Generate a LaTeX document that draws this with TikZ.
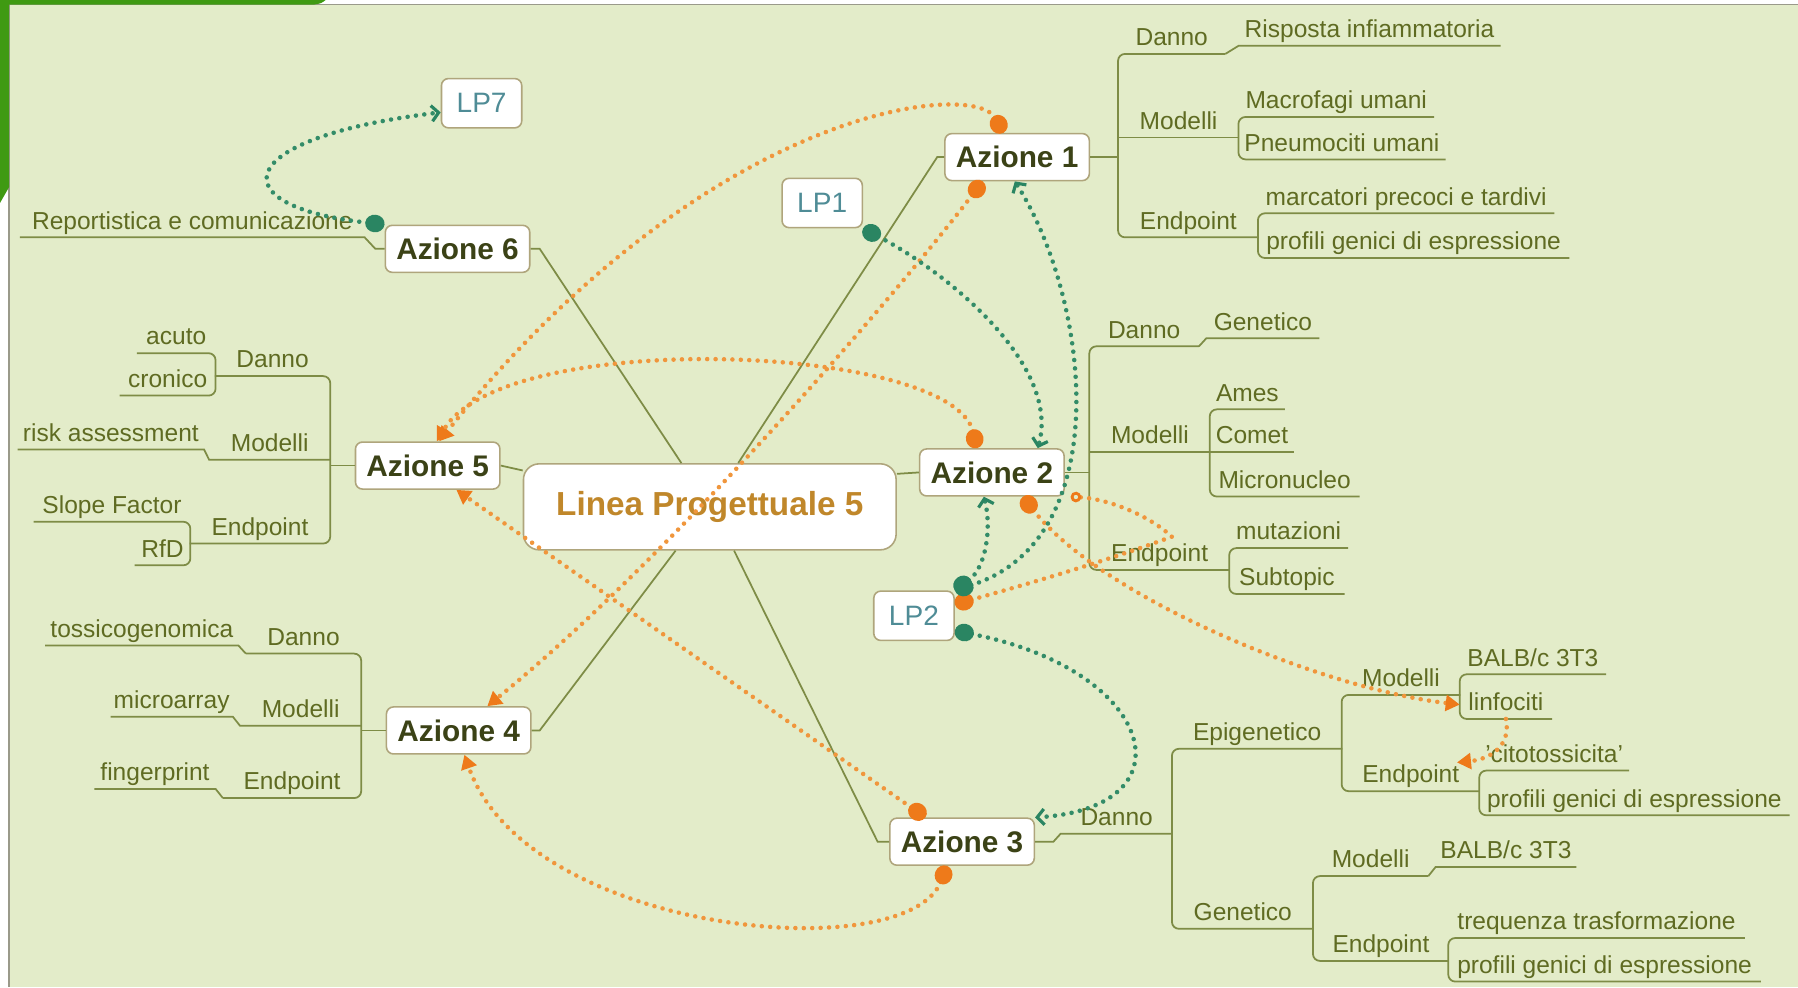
\documentclass[tikz,border=0pt]{standalone}
\usepackage{fontspec}
\setmainfont{Liberation Sans}
\usetikzlibrary{arrows.meta}

\newlength{\px}
\setlength{\px}{0.023cm}

\definecolor{bgc}{HTML}{E3ECC9}
\definecolor{framec}{HTML}{9A9A8A}
\definecolor{cornerc}{HTML}{3F9A12}
\definecolor{brc}{HTML}{7E8C46}
\definecolor{lbc}{HTML}{5F6B22}
\definecolor{boxc}{HTML}{AFA57C}
\definecolor{azc}{HTML}{3B4216}
\definecolor{lpc}{HTML}{4F8C96}
\definecolor{centc}{HTML}{C0872A}
\definecolor{odash}{HTML}{F0963C}
\definecolor{odot}{HTML}{EE7A1A}
\definecolor{gdash}{HTML}{338C68}
\definecolor{gdot}{HTML}{2A8562}

\tikzstyle{branch}=[draw=brc,line width=1pt]
\tikzstyle{lbl}=[inner xsep=0pt,inner ysep=1.5pt,text height=10pt,text depth=3pt,font=\fontsize{14}{16}\selectfont,text=lbc]
\tikzstyle{lblr}=[lbl,anchor=south west]
\tikzstyle{lbll}=[lbl,anchor=south east]
\tikzstyle{azione}=[draw=boxc,fill=white,rounded corners=4pt,line width=0.9pt,minimum width=126\px,minimum height=41\px,font=\bfseries\fontsize{17}{17}\selectfont,text=azc]
\tikzstyle{lp}=[draw=boxc,fill=white,rounded corners=4pt,line width=0.9pt,minimum width=70\px,minimum height=43\px,font=\fontsize{16}{16}\selectfont,text=lpc]
\tikzstyle{olink}=[draw=odash,line width=2.6pt,dash pattern=on 0pt off 4.8pt,line cap=round,arrows={Circle[length=11pt,width=10pt,color=odot]-Triangle[length=8pt,width=9pt,color=odot]}]
\tikzstyle{glink}=[draw=gdash,line width=2.6pt,dash pattern=on 0pt off 4.8pt,line cap=round,arrows={Circle[length=11pt,width=10pt,color=gdot]-Straight Barb[length=4pt,width=9pt,line width=1.8pt,color=gdot]}]

\begin{document}
\begin{tikzpicture}[x=0.023cm,y=-0.023cm]

\useasboundingbox (0,0) rectangle (1568,861);
\fill[white] (0,0) rectangle (1568,861);
\fill[bgc] (8,4) rectangle (1568,861);
\draw[framec,line width=1pt] (1568,4) -- (8,4) -- (8,861);
\fill[cornerc] (0,0) -- (284,0) .. controls (280,3) .. (274,4) -- (8,4) -- (8,163) -- (0,177) -- cycle;

\node[lp,minimum width=325\px,minimum height=75\px,rounded corners=9pt,font=\bfseries\fontsize{19}{19}\selectfont,text=centc] (lp5) at (619,442) {Linea Progettuale 5};

\node[azione] (az1) at (887,137) {Azione 1};
\node[azione] (az2) at (865,412) {Azione 2};
\node[azione] (az3) at (839,734) {Azione 3};
\node[azione] (az4) at (400,637) {Azione 4};
\node[azione] (az5) at (373,406) {Azione 5};
\node[azione] (az6) at (399,217) {Azione 6};

\node[lp] (lp7) at (420,90) {LP7};
\node[lp] (lp1) at (717,177) {LP1};
\node[lp] (lp2) at (797,537) {LP2};

\node[lblr,minimum width=93\px] (a1d) at (975,47) {Danno};
\node[lblr,minimum width=228\px] (a1r) at (1080,40) {Risposta infiammatoria};
\node[lblr,minimum width=105\px] (a1m) at (975,120) {Modelli};
\node[lblr,minimum width=170\px] (a1m1) at (1080,102) {Macrofagi umani};
\node[lblr,minimum width=180\px] (a1m2) at (1080,139) {Pneumociti umani};
\node[lblr,minimum width=122\px] (a1e) at (975,207) {Endpoint};
\node[lblr,minimum width=258\px] (a1e1) at (1097,186) {marcatori precoci e tardivi};
\node[lblr,minimum width=271\px] (a1e2) at (1097,225) {profili genici di espressione};

\node[lblr,minimum width=95\px] (a2d) at (950,302) {Danno};
\node[lblr,minimum width=98\px] (a2g) at (1052,295) {Genetico};
\node[lblr,minimum width=105\px] (a2m) at (950,394) {Modelli};
\node[lblr,minimum width=65\px] (a2m1) at (1055,357) {Ames};
\node[lblr,minimum width=73\px] (a2m2) at (1055,394) {Comet};
\node[lblr,minimum width=130\px] (a2m3) at (1055,433) {Micronucleo};
\node[lblr,minimum width=122\px] (a2e) at (950,497) {Endpoint};
\node[lblr,minimum width=103\px] (a2e1) at (1072,478) {mutazioni};
\node[lblr,minimum width=100\px] (a2e2) at (1072,518) {Subtopic};

\node[lblr,minimum width=97\px] (a3d) at (925,727) {Danno};
\node[lblr,minimum width=148\px] (a3ep) at (1022,653) {Epigenetico};
\node[lblr,minimum width=103\px] (a3epm) at (1170,606) {Modelli};
\node[lblr,minimum width=127\px] (a3epm1) at (1273,588) {BALB/c 3T3};
\node[lblr,minimum width=80\px] (a3epm2) at (1273,627) {linfociti};
\node[lblr,minimum width=120\px] (a3epe) at (1170,690) {Endpoint};
\node[lblr,minimum width=130\px] (a3epe1) at (1290,672) {'citotossicita'};
\node[lblr,minimum width=270\px] (a3epe2) at (1290,711) {profili genici di espressione};
\node[lblr,minimum width=123\px] (a3ge) at (1022,810) {Genetico};
\node[lblr,minimum width=100\px] (a3gem) at (1145,764) {Modelli};
\node[lblr,minimum width=122\px] (a3gem1) at (1252,756) {BALB/c 3T3};
\node[lblr,minimum width=118\px] (a3gee) at (1145,838) {Endpoint};
\node[lblr,minimum width=258\px] (a3gee1) at (1263,818) {trequenza trasformazione};
\node[lblr,minimum width=272\px] (a3gee2) at (1263,856) {profili genici di espressione};

\node[lbll,minimum width=100\px] (a4d) at (315,570) {Danno};
\node[lbll,minimum width=168\px] (a4d1) at (208,563) {tossicogenomica};
\node[lbll,minimum width=105\px] (a4m) at (315,633) {Modelli};
\node[lbll,minimum width=106\px] (a4m1) at (203,625) {microarray};
\node[lbll,minimum width=120\px] (a4e) at (315,696) {Endpoint};
\node[lbll,minimum width=105\px] (a4e1) at (188,688) {fingerprint};

\node[lbll,minimum width=100\px] (a5d) at (288,328) {Danno};
\node[lbll,minimum width=68\px] (a5d1) at (188,308) {acuto};
\node[lbll,minimum width=83\px] (a5d2) at (188,345) {cronico};
\node[lbll,minimum width=105\px] (a5m) at (288,401) {Modelli};
\node[lbll,minimum width=162\px] (a5m1) at (178,392) {risk assessment};
\node[lbll,minimum width=122\px] (a5e) at (288,474) {Endpoint};
\node[lbll,minimum width=136\px] (a5e1) at (166,455) {Slope Factor};
\node[lbll,minimum width=48\px] (a5e2) at (166,493) {RfD};

\node[lbll,minimum width=300\px] (a6r) at (318,207) {Reportistica e comunicazione};

\draw[branch] (lp5.57) -- ([xshift=-6\px]az1.west) -- (az1.west);
\draw[branch] (lp5.10) -- (az2.west);
\draw[branch] (lp5.299) -- ([xshift=-10\px]az3.west) -- (az3.west);
\draw[branch] (lp5.232) -- ([xshift=7\px]az4.east) -- (az4.east);
\draw[branch] (lp5.169) -- (az5.east);
\draw[branch] (lp5.123) -- ([xshift=8\px]az6.east) -- (az6.east);

\draw[branch] (az1.east) -- (az1.east -| a1d.south west);
\draw[branch,rounded corners=4pt] (a1d.south east) -- (a1d.south west) -- (a1e.south west) -- (a1e.south east);
\draw[branch] (a1m.south west) -- (a1m.south east);
\draw[branch] (a1d.south east) -- (a1r.south west) -- (a1r.south east);
\draw[branch,rounded corners=4pt] (a1m1.south east) -- (a1m1.south west) -- (a1m2.south west) -- (a1m2.south east);
\draw[branch,rounded corners=4pt] (a1e1.south east) -- (a1e1.south west) -- (a1e2.south west) -- (a1e2.south east);

\draw[branch] (az2.east) -- (az2.east -| a2d.south west);
\draw[branch,rounded corners=4pt] (a2d.south east) -- (a2d.south west) -- (a2e.south west) -- (a2e.south east);
\draw[branch] (a2m.south west) -- (a2m.south east);
\draw[branch] (a2d.south east) -- (a2g.south west) -- (a2g.south east);
\draw[branch,rounded corners=4pt] (a2m1.south east) -- (a2m1.south west) -- (a2m3.south west) -- (a2m3.south east);
\draw[branch] (a2m2.south west) -- (a2m2.south east);
\draw[branch,rounded corners=4pt] (a2e1.south east) -- (a2e1.south west) -- (a2e2.south west) -- (a2e2.south east);

\draw[branch] (az3.east) -- ([xshift=16\px]az3.east) -- (a3d.south west) -- (a3d.south east);
\draw[branch,rounded corners=4pt] (a3ep.south east) -- (a3ep.south west) -- (a3ge.south west) -- (a3ge.south east);
\draw[branch,rounded corners=4pt] (a3epm.south east) -- (a3epm.south west) -- (a3epe.south west) -- (a3epe.south east);
\draw[branch,rounded corners=4pt] (a3epm1.south east) -- (a3epm1.south west) -- (a3epm2.south west) -- (a3epm2.south east);
\draw[branch,rounded corners=4pt] (a3epe1.south east) -- (a3epe1.south west) -- (a3epe2.south west) -- (a3epe2.south east);
\draw[branch,rounded corners=4pt] (a3gem.south east) -- (a3gem.south west) -- (a3gee.south west) -- (a3gee.south east);
\draw[branch] (a3gem.south east) -- (a3gem1.south west) -- (a3gem1.south east);
\draw[branch,rounded corners=4pt] (a3gee1.south east) -- (a3gee1.south west) -- (a3gee2.south west) -- (a3gee2.south east);

\draw[branch] (az4.west) -- (az4.west -| a4d.south east);
\draw[branch,rounded corners=4pt] (a4d.south west) -- (a4d.south east) -- (a4e.south east) -- (a4e.south west);
\draw[branch] (a4d.south west) -- (a4d1.south east) -- (a4d1.south west);
\draw[branch] (a4m.south east) -- (a4m.south west) -- (a4m1.south east) -- (a4m1.south west);
\draw[branch] (a4e.south west) -- (a4e1.south east) -- (a4e1.south west);

\draw[branch] (az5.west) -- (az5.west -| a5d.south east);
\draw[branch,rounded corners=4pt] (a5d.south west) -- (a5d.south east) -- (a5e.south east) -- (a5e.south west);
\draw[branch] (a5m.south east) -- (a5m.south west) -- (a5m1.south east) -- (a5m1.south west);
\draw[branch,rounded corners=4pt] (a5d1.south west) -- (a5d1.south east) -- (a5d2.south east) -- (a5d2.south west);
\draw[branch,rounded corners=4pt] (a5e1.south west) -- (a5e1.south east) -- (a5e2.south east) -- (a5e2.south west);

\draw[branch] (az6.west) -- ([xshift=-8\px]az6.west) -- (a6r.south east) -- (a6r.south west);

\draw[olink] ([xshift=-12\px]az1.north) .. controls (850,70) and (620,90) .. ([xshift=10\px]az5.north);
\draw[olink] ([xshift=-30\px]az1.south) .. controls (775,265) and (580,490) .. ([xshift=25\px]az4.north);
\draw[olink] ([xshift=-13\px]az2.north) .. controls (830,300) and (440,285) .. ([xshift=8\px]az5.north);
\draw[olink] ([xshift=-32\px]az3.north) -- ([xshift=25\px]az5.south);
\draw[olink] ([xshift=-13\px]az3.south) .. controls (790,845) and (460,815) .. ([xshift=5\px]az4.south);
\draw[olink] ([xshift=27\px]az2.south) .. controls (960,520) and (1150,600) .. (a3epm2.west);
\draw[olink,arrows={Circle[length=11pt,width=10pt,color=odot]-Circle[open,length=6pt,line width=1.6pt,color=odot]}] ([yshift=10\px]lp2.east) .. controls (930,500) and (990,480) .. (1022,468) .. controls (1000,448) and (965,435) .. ([xshift=5\px]az2.south east);
\draw[olink,arrows={-Triangle[length=8pt,width=9pt,color=odot]}] (a3epm2.south) .. controls (1318,650) and (1300,662) .. ([xshift=-20\px]a3epe.north east);

\draw[glink] (az6.north west) .. controls (190,180) and (200,120) .. ([yshift=-8\px]lp7.west);
\draw[glink] (lp1.south east) .. controls (830,240) and (925,320) .. ([xshift=40\px]az2.north);
\draw[glink] (lp2.north east) .. controls (860,495) and (865,460) .. ([xshift=-7\px]az2.south);
\draw[glink] (lp2.north east) .. controls (975,470) and (950,260) .. ([xshift=-2\px]az1.south);
\draw[glink] ([yshift=-13\px]lp2.east) .. controls (1010,585) and (1040,705) .. (az3.north east);

\end{tikzpicture}
\end{document}
